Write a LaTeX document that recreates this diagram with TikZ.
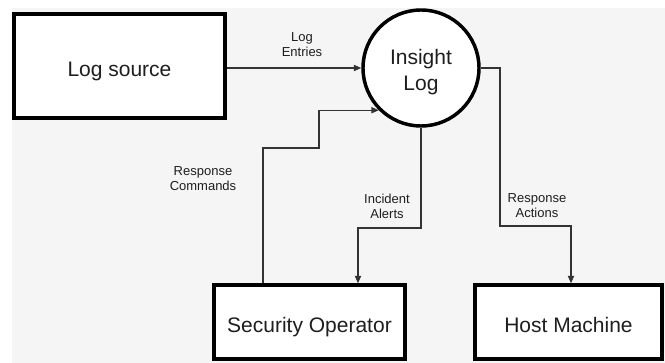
\documentclass[tikz,border=0pt]{standalone}
\usepackage{fontspec}
\setmainfont{Liberation Sans}
\usetikzlibrary{arrows.meta,calc}
\definecolor{pagebg}{HTML}{F5F5F5}
\definecolor{ink}{HTML}{1E1E1E}
\definecolor{wire}{HTML}{333333}
\tikzset{
  entity/.style={draw=black, fill=white, line width=2.6pt, rectangle,
    font=\fontsize{15.75}{19}\selectfont, text=ink, inner sep=0pt,
    text height=15.6pt, text depth=0pt},
  proc/.style={draw=black, fill=white, line width=2.6pt, circle,
    minimum size=87pt, inner sep=0pt, align=center,
    font=\fontsize{15.75}{19.5}\selectfont, text=ink,
    text height=33.7pt, text depth=0pt},
  flow/.style={draw=wire, line width=0.95pt,
    -{Triangle[length=5.5pt,width=4.6pt]}},
  lbl/.style={align=center, font=\fontsize{9.75}{11.25}\selectfont, text=ink, inner sep=1pt},
}
\begin{document}
\begin{tikzpicture}[x=0.75pt,y=-0.75pt]
  % page and canvas
  \fill[white] (0,0) rectangle (665,363);
  \fill[pagebg] (12,8) rectangle (665,363);
  \useasboundingbox (0,0) rectangle (665,363);

  % entities and the central process
  \node[entity, minimum width=158.25pt, minimum height=78pt] (src) at (119.5,66) {Log source};
  \node[proc] (ins) at (421,68) {Insight\\Log};
  \node[entity, minimum width=143.25pt, minimum height=55.5pt] (sec) at (309.5,322) {Security Operator};
  \node[entity, minimum width=140.25pt, minimum height=55.5pt] (host) at (568.5,322) {Host Machine};

  % bend points of the routed connectors
  \coordinate (rcA) at (263,148);
  \coordinate (rcB) at (319,148);
  \coordinate (iaA) at (421,228);
  \coordinate (iaB) at (358,228);
  \coordinate (raA) at (500,226);
  \coordinate (raB) at (571,226);

  % data flows
  \draw[flow] (src.east |- ins.west) -- (ins.west);
  \draw[flow] (sec.north -| rcA) -- (rcA) -- (rcB) -- (rcB |- ins.225) -- (ins.225);
  \draw[flow] (ins.south) -- (iaA) -- (iaB) -- (sec.north -| iaB);
  \draw[flow] (ins.east) -- (ins.east -| raA) -- (raA) -- (raB) -- (host.north -| raB);

  % flow labels
  \node[lbl] (lLog) at (302,45) {Log\\Entries};
  \node[lbl] (lRC) at (203,179) {Response\\Commands};
  \node[lbl] (lIA) at (387,206) {Incident\\Alerts};
  \node[lbl] (lRA) at (537,206) {Response\\Actions};
\end{tikzpicture}
\end{document}
